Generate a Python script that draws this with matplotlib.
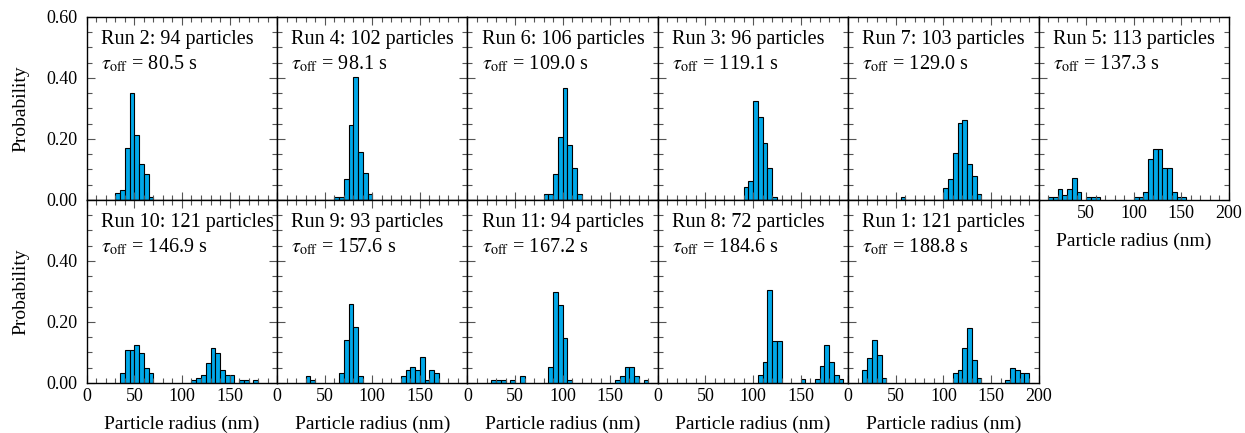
import numpy as np
import matplotlib
matplotlib.use("Agg")
import matplotlib.pyplot as plt
from matplotlib.ticker import MultipleLocator

plt.rcParams['font.family'] = ['Liberation Serif', 'DejaVu Serif']
plt.rcParams['mathtext.fontset'] = 'stix'

# ---- data (bin width 5 nm; bin left edges and particle counts per bin) ----
bin_width = 5

run_names = ['Run 2', 'Run 4', 'Run 6', 'Run 3', 'Run 7', 'Run 5',
             'Run 10', 'Run 9', 'Run 11', 'Run 8', 'Run 1']
n_particles = [94, 102, 106, 96, 103, 113, 121, 93, 94, 72, 121]
tau_off = [80.5, 98.1, 109.0, 119.1, 129.0, 137.3,
           146.9, 157.6, 167.2, 184.6, 188.8]

bins_run2 = [30, 35, 40, 45, 50, 55, 60, 65]
counts_run2 = [2, 3, 16, 33, 20, 11, 8, 1]

bins_run4 = [60, 65, 70, 75, 80, 85, 90, 95]
counts_run4 = [1, 1, 7, 25, 41, 16, 9, 2]

bins_run6 = [80, 85, 90, 95, 100, 105, 110, 115]
counts_run6 = [2, 2, 9, 22, 39, 19, 11, 2]

bins_run3 = [90, 95, 100, 105, 110, 115, 120]
counts_run3 = [4, 6, 31, 26, 18, 10, 1]

bins_run7 = [55, 100, 105, 110, 115, 120, 125, 130, 135]
counts_run7 = [1, 4, 7, 16, 26, 27, 12, 8, 2]

bins_run5 = [10, 15, 20, 25, 30, 35, 40, 50, 55, 60,
             100, 105, 110, 115, 120, 125, 130, 135, 140, 145, 150]
counts_run5 = [1, 1, 4, 2, 4, 8, 3, 1, 1, 1,
               1, 1, 3, 15, 19, 19, 12, 12, 3, 1, 1]

bins_run10 = [35, 40, 45, 50, 55, 60, 65,
              110, 115, 120, 125, 130, 135, 140, 145, 150, 160, 165, 175]
counts_run10 = [4, 13, 13, 15, 12, 6, 4,
                1, 2, 3, 8, 14, 12, 5, 3, 3, 1, 1, 1]

bins_run9 = [30, 35, 65, 70, 75, 80, 85,
             130, 135, 140, 145, 150, 155, 160, 165]
counts_run9 = [2, 1, 3, 13, 24, 17, 2,
               2, 4, 5, 4, 8, 1, 4, 3]

bins_run11 = [25, 30, 35, 45, 55, 85, 90, 95, 100, 105,
              155, 160, 165, 170, 175, 185]
counts_run11 = [1, 1, 1, 1, 2, 5, 28, 24, 14, 1,
                1, 2, 5, 5, 2, 1]

bins_run8 = [105, 110, 115, 120, 125, 150, 165, 170, 175, 180, 185, 190]
counts_run8 = [2, 5, 22, 10, 10, 1, 1, 4, 9, 5, 2, 1]

bins_run1 = [15, 20, 25, 30, 35, 110, 115, 120, 125, 130, 135,
             165, 170, 175, 180, 185]
counts_run1 = [5, 10, 17, 11, 2, 4, 5, 14, 22, 9, 2,
               1, 6, 5, 4, 4]

all_bins = [bins_run2, bins_run4, bins_run6, bins_run3, bins_run7, bins_run5,
            bins_run10, bins_run9, bins_run11, bins_run8, bins_run1]
all_counts = [counts_run2, counts_run4, counts_run6, counts_run3, counts_run7,
              counts_run5, counts_run10, counts_run9, counts_run11,
              counts_run8, counts_run1]

bar_color = '#00A8E8'
fs = 13

fig, axes = plt.subplots(2, 6, figsize=(12.45, 4.33), dpi=100)
fig.subplots_adjust(left=0.0697, right=0.9871, top=0.961, bottom=0.1155,
                    wspace=0, hspace=0)

for i in range(12):
    r, c = divmod(i, 6)
    ax = axes[r, c]
    if i == 11:
        ax.axis('off')
        continue
    b = np.array(all_bins[i], dtype=float)
    p = np.array(all_counts[i], dtype=float) / n_particles[i]
    ax.bar(b, p, width=bin_width, align='edge', color=bar_color,
           edgecolor='black', linewidth=0.8)
    ax.set_xlim(0, 200)
    ax.set_ylim(0, 0.6)
    ax.xaxis.set_major_locator(MultipleLocator(50))
    ax.xaxis.set_minor_locator(MultipleLocator(10))
    ax.yaxis.set_major_locator(MultipleLocator(0.2))
    ax.yaxis.set_minor_locator(MultipleLocator(0.05))
    ax.tick_params(which='both', direction='in', top=True, right=True,
                   labelsize=fs, color='#555555')
    ax.tick_params(axis='y', which='major', pad=7)
    ax.tick_params(which='major', length=6, width=0.8)
    ax.tick_params(which='minor', length=3.5, width=0.8)
    for s in ax.spines.values():
        s.set_linewidth(1.0)

    ax.text(0.075, 0.93, f'{run_names[i]}: {n_particles[i]} particles',
            transform=ax.transAxes, ha='left', va='top', fontsize=fs + 1.5)
    ax.text(0.075, 0.80, r'$\tau_{\mathrm{off}}$' + f' = {tau_off[i]:.1f} s',
            transform=ax.transAxes, ha='left', va='top', fontsize=fs + 1.5)

    # y tick labels
    if c == 0:
        ax.set_ylabel('Probability', fontsize=fs + 1, labelpad=12)
        ax.set_yticks([0, 0.2, 0.4, 0.6])
        if r == 0:
            ax.set_yticklabels(['0.00', '0.20', '0.40', '0.60'])
        else:
            ax.set_yticklabels(['0.00', '0.20', '0.40', ''])
    else:
        ax.set_yticklabels([])

    # x tick labels
    show_x = (r == 1) or (r == 0 and c == 5)
    if show_x:
        ax.set_xticks([0, 50, 100, 150, 200])
        if r == 0 and c == 5:
            ax.set_xticklabels(['', '50', '100', '150', '200'])
        elif r == 1 and c == 4:
            ax.set_xticklabels(['0', '50', '100', '150', '200'])
        else:
            ax.set_xticklabels(['0', '50', '100', '150', ''])
        ax.set_xlabel('Particle radius (nm)', fontsize=fs + 1, labelpad=8)
    else:
        ax.set_xticklabels([])

fig.savefig('out.png', dpi=100)
